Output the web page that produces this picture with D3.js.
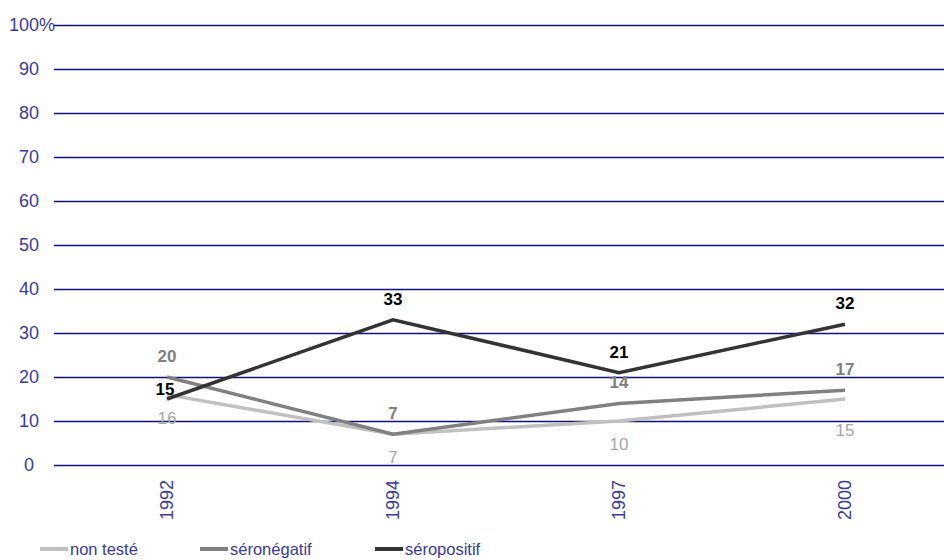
<!DOCTYPE html>
<html>
<head>
<meta charset="utf-8">
<script src="https://cdn.jsdelivr.net/npm/d3@7"></script>
<style>
  html, body { margin: 0; padding: 0; background: #fff; }
  svg { display: block; font-family: "Liberation Sans", Arial, sans-serif; }
</style>
</head>
<body>
<svg id="chart" width="944" height="560"></svg>
<script>
// Survey years (x categories)
const years = ["1992", "1994", "1997", "2000"];

// Percentages per serological status
const nonTeste    = [16, 7, 10, 15];
const seronegatif = [20, 7, 14, 17];
const seropositif = [15, 33, 21, 32];

// Y axis ticks
const yTicks = [0, 10, 20, 30, 40, 50, 60, 70, 80, 90, 100];
const yTickLabels = ["0", "10", "20", "30", "40", "50", "60", "70", "80", "90", "100%"];

const seriesNames = ["non testé", "séronégatif", "séropositif"];

const series = [
  { name: seriesNames[0], values: nonTeste,    color: "#c0c0c0", labelColor: "#a6a6a6", weight: "normal", below: true },
  { name: seriesNames[1], values: seronegatif, color: "#808080", labelColor: "#808080", weight: "bold",   below: false },
  { name: seriesNames[2], values: seropositif, color: "#333333", labelColor: "#000000", weight: "bold",   below: false }
];

const svg = d3.select("#chart");
const axisColor = "#3a3a9c";
const gridColor = "#101078";

const x = d3.scalePoint().domain(years).range([54, 958]).padding(0.5);
const y = d3.scaleLinear().domain([0, 100]).range([465, 25]);

// Horizontal gridlines
svg.append("g").selectAll("line")
  .data(yTicks)
  .join("line")
  .attr("x1", 54).attr("x2", 944)
  .attr("y1", d => Math.round(y(d)) + 0.5).attr("y2", d => Math.round(y(d)) + 0.5)
  .attr("stroke", gridColor)
  .attr("stroke-width", 1.3);

// Y tick labels
svg.append("g").selectAll("text")
  .data(yTicks)
  .join("text")
  .attr("x", (d, i) => i === yTicks.length - 1 ? 32 : 29)
  .attr("y", d => y(d))
  .attr("dy", "0.35em")
  .attr("text-anchor", "middle")
  .attr("fill", axisColor)
  .attr("font-size", 18)
  .text((d, i) => yTickLabels[i]);

// X tick labels, rotated
svg.append("g").selectAll("text")
  .data(years)
  .join("text")
  .attr("transform", d => `translate(${x(d)},480) rotate(-90)`)
  .attr("dy", "0.35em")
  .attr("text-anchor", "end")
  .attr("fill", axisColor)
  .attr("font-size", 18)
  .text(d => d);

// Lines
const line = d3.line()
  .x((d, i) => x(years[i]))
  .y(d => y(d));

svg.append("g").selectAll("path")
  .data(series)
  .join("path")
  .attr("d", s => line(s.values))
  .attr("fill", "none")
  .attr("stroke", s => s.color)
  .attr("stroke-width", 3.5)
  .attr("stroke-linejoin", "miter");

// Value labels; a few are nudged to keep clear of neighbouring labels
const labelNudge = {
  "séropositif|1992": [-2, 11],
  "non testé|2000": [0, 8]
};
series.forEach(s => {
  const nudge = i => labelNudge[s.name + "|" + years[i]] || [0, 0];
  svg.append("g").selectAll("text")
    .data(s.values)
    .join("text")
    .attr("x", (d, i) => x(years[i]) + nudge(i)[0])
    .attr("y", (d, i) => y(d) + (s.below ? 23 : -21) + nudge(i)[1])
    .attr("dy", "0.35em")
    .attr("text-anchor", "middle")
    .attr("fill", s.labelColor)
    .attr("font-weight", s.weight)
    .attr("font-size", 17)
    .text(d => d);
});

// Legend
const legendX = [40, 200, 375];
const legend = svg.append("g").selectAll("g")
  .data(series)
  .join("g")
  .attr("transform", (d, i) => `translate(${legendX[i]},549)`);
legend.append("line")
  .attr("x1", 0).attr("x2", 28)
  .attr("stroke", d => d.color)
  .attr("stroke-width", 4);
legend.append("text")
  .attr("x", 30)
  .attr("dy", "0.35em")
  .attr("fill", axisColor)
  .attr("font-size", 16.5)
  .text(d => d.name);
</script>
</body>
</html>
